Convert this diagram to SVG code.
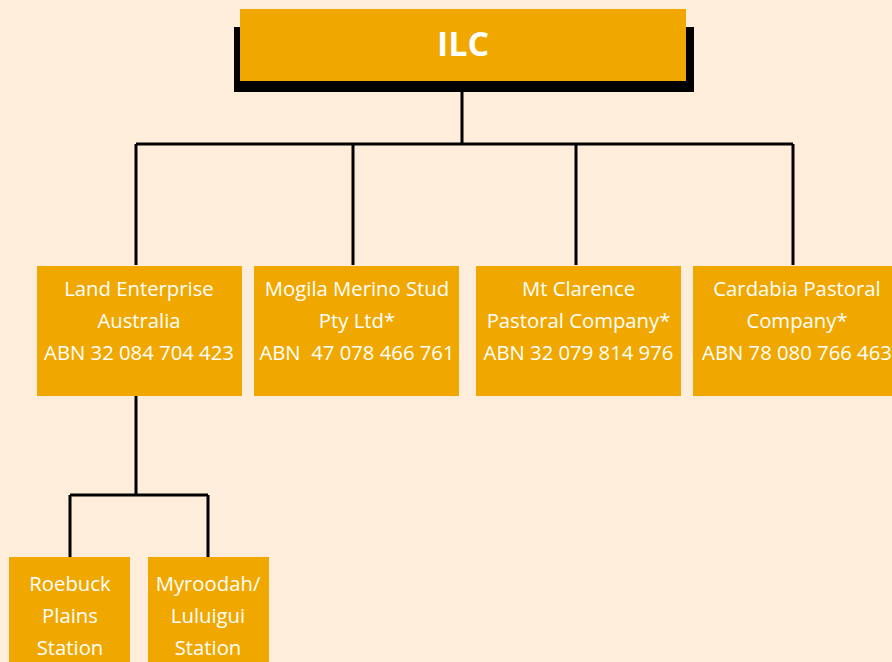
<svg xmlns="http://www.w3.org/2000/svg" width="892" height="662" viewBox="0 0 892 662">
<style>
.box{fill:#F0A800}
.t{font-family:"Open Sans","Noto Sans",sans-serif;font-size:20.3px;fill:#ffffff;text-anchor:middle}
.title{font-family:"Open Sans","Noto Sans",sans-serif;font-size:34px;font-weight:bold;fill:#ffffff;text-anchor:middle}
.c{stroke:#000;stroke-width:3;fill:none}
</style>
<rect width="892" height="662" fill="#FEEDDA"/>
<g id="connectors">
<path class="c" d="M462 92V144M136 144H793M136 144V265M353 144V265M576 144V265M793 144V265"/>
<path class="c" d="M136 396V495M70 495H208M70 495V557M208 495V557"/>
</g>
<g id="ilc">
<rect x="234" y="27" width="460" height="65" fill="#000"/>
<rect class="box" x="240" y="9" width="446" height="72"/>
<text class="title" x="463" y="56">ILC</text>
</g>
<g id="lea">
<rect class="box" x="37" y="266" width="205" height="130"/>
<text class="t" x="139" y="296">Land Enterprise</text>
<text class="t" x="139" y="328">Australia</text>
<text class="t" x="139" y="360">ABN 32 084 704 423</text>
</g>
<g id="mogila">
<rect class="box" x="254" y="266" width="205" height="130"/>
<text class="t" x="357" y="296">Mogila Merino Stud</text>
<text class="t" x="357" y="328">Pty Ltd*</text>
<text class="t" x="357" y="360" xml:space="preserve">ABN  47 078 466 761</text>
</g>
<g id="mtclarence">
<rect class="box" x="476" y="266" width="205" height="130"/>
<text class="t" x="578.5" y="296">Mt Clarence</text>
<text class="t" x="578.5" y="328">Pastoral Company*</text>
<text class="t" x="578.5" y="360">ABN 32 079 814 976</text>
</g>
<g id="cardabia">
<rect class="box" x="693" y="266" width="205" height="130"/>
<text class="t" x="797" y="296">Cardabia Pastoral</text>
<text class="t" x="797" y="328">Company*</text>
<text class="t" x="797" y="360">ABN 78 080 766 463</text>
</g>
<g id="roebuck">
<rect class="box" x="9" y="557" width="121" height="110"/>
<text class="t" x="70" y="591">Roebuck</text>
<text class="t" x="70" y="623">Plains</text>
<text class="t" x="70" y="655">Station</text>
</g>
<g id="myroodah">
<rect class="box" x="148" y="557" width="121" height="110"/>
<text class="t" x="208" y="591">Myroodah/</text>
<text class="t" x="208" y="623">Luluigui</text>
<text class="t" x="208" y="655">Station</text>
</g>
</svg>
